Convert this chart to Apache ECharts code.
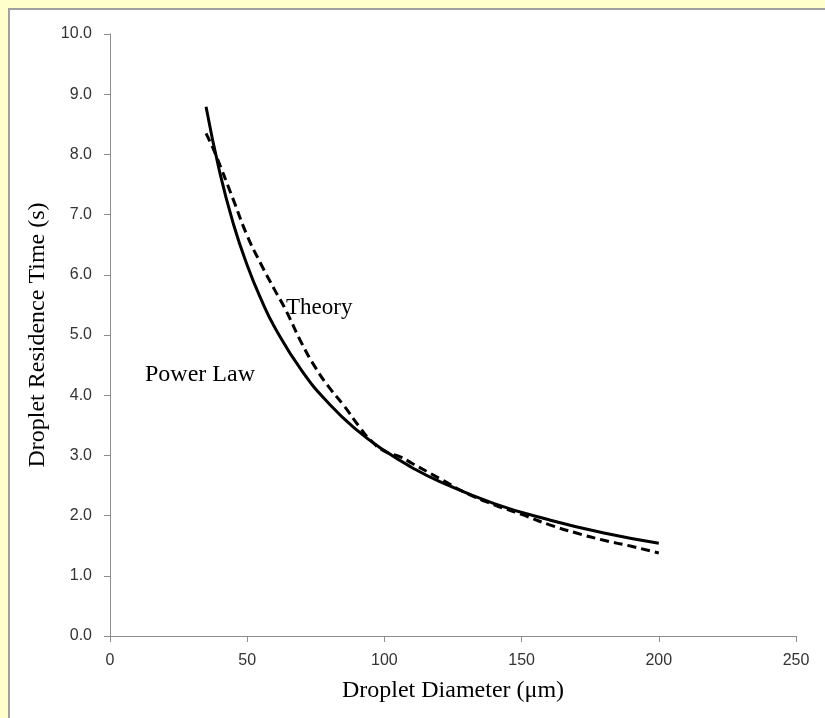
<!DOCTYPE html>
<html>
<head>
<meta charset="utf-8">
<script src="https://cdn.jsdelivr.net/npm/echarts@6/dist/echarts.min.js"></script>
<style>
    html, body {margin: 0; padding: 0; background: #ffffcc;}
    #main {width: 825px; height: 718px;}
</style>
</head>
<body>
<div id="main"></div>
<script>
// 读图估计的数据
var powerLawX = [35, 40, 45, 50, 55, 60, 70, 80, 90, 100, 110, 120, 140, 160, 180, 200];
var powerLawY = [8.79, 7.70, 6.84, 6.16, 5.60, 5.13, 4.40, 3.85, 3.42, 3.08, 2.80, 2.57, 2.20, 1.93, 1.71, 1.54];
var theoryX = [35, 38.3, 45, 50, 55, 60, 64, 70, 75, 80, 85, 91, 95, 100, 106, 110, 120, 130, 140, 150, 160, 170, 180, 190, 200];
var theoryY = [8.35, 8.02, 7.24, 6.65, 6.18, 5.75, 5.42, 4.85, 4.45, 4.12, 3.84, 3.47, 3.25, 3.07, 2.97, 2.87, 2.62, 2.37, 2.18, 2.02, 1.85, 1.71, 1.59, 1.49, 1.38];
var xTicks = {min: 0, max: 250, interval: 50};
var yTicks = {min: 0, max: 10, interval: 1};

function pairs(xs, ys) {
    return xs.map(function (x, i) { return [x, ys[i]]; });
}

var chart = echarts.init(document.getElementById('main'));
var serif = '"Liberation Serif", "Times New Roman", serif';
var sans = '"Liberation Sans", Arial, sans-serif';

var option = {
    backgroundColor: '#ffffcc',
    animation: false,
    graphic: [
        {type: 'rect', z: -10, shape: {x: 9, y: 9, width: 840, height: 740},
            style: {fill: '#ffffff', stroke: '#a0a0a0', lineWidth: 2}},
        {type: 'text', left: 286, top: 296, style: {text: 'Theory', font: '23px ' + serif, fill: '#000'}},
        {type: 'text', left: 145, top: 363, style: {text: 'Power Law', font: '24px ' + serif, fill: '#000'}}
    ],
    grid: {left: 110, right: 29, top: 34, bottom: 82},
    xAxis: {
        type: 'value', min: xTicks.min, max: xTicks.max, interval: xTicks.interval,
        name: 'Droplet Diameter (μm)', nameLocation: 'middle', nameGap: 43,
        nameTextStyle: {fontFamily: serif, fontSize: 24, color: '#000'},
        axisLine: {lineStyle: {color: '#8c8c8c', width: 1}},
        axisTick: {show: true, length: 6, lineStyle: {color: '#8c8c8c'}},
        axisLabel: {fontFamily: sans, fontSize: 16, color: '#333', margin: 17},
        splitLine: {show: false}
    },
    yAxis: {
        type: 'value', min: yTicks.min, max: yTicks.max, interval: yTicks.interval,
        name: 'Droplet Residence Time (s)', nameLocation: 'middle', nameGap: 58,
        nameTextStyle: {fontFamily: serif, fontSize: 24, color: '#000'},
        axisLine: {show: true, lineStyle: {color: '#8c8c8c', width: 1}},
        axisTick: {show: true, length: 6, lineStyle: {color: '#8c8c8c'}},
        axisLabel: {fontFamily: sans, fontSize: 16, color: '#333', margin: 18,
            formatter: function (v) { return v.toFixed(1); }},
        splitLine: {show: false}
    },
    series: [
        {name: 'Power Law', type: 'line', smooth: true, symbol: 'none',
            lineStyle: {color: '#000', width: 3},
            data: pairs(powerLawX, powerLawY)},
        {name: 'Theory', type: 'line', smooth: true, symbol: 'none',
            lineStyle: {color: '#000', width: 3, type: [9, 5]},
            data: pairs(theoryX, theoryY)}
    ]
};
chart.setOption(option);
</script>
</body>
</html>
